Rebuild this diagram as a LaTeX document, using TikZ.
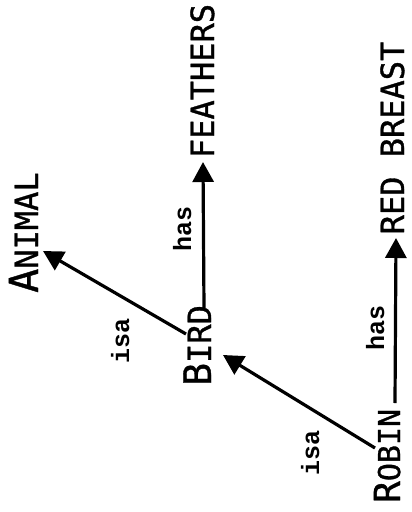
\documentclass[tikz,border=0pt]{standalone}
\usepackage{fontspec}
\usetikzlibrary{arrows.meta,calc}
\newfontfamily\capsfont[FakeBold=1]{DejaVu Sans Mono}
\newfontfamily\lblfont{Liberation Mono}
\newcommand{\myfs}[1]{\fontsize{#1}{#1}\selectfont}
\begin{document}
\begin{tikzpicture}[x=1pt,y=-1pt,
  conceptnode/.style={rotate=90,inner sep=0pt,text depth=0pt,anchor=base west,font=\capsfont},
  attrnode/.style={rotate=90,inner sep=0pt,text depth=0pt,anchor=base,font=\capsfont\myfs{32}},
  relnode/.style={rotate=90,inner sep=0pt,text depth=0pt,anchor=base,font=\lblfont\bfseries\myfs{25}},
  linkarrow/.style={line width=3.2pt,-{Triangle[length=20pt,width=21pt]}}]
\useasboundingbox (0,0) rectangle (412,512);
% concepts
\node[conceptnode] (animal) at (38,293) {{\myfs{40}A}{\myfs{32}NIMAL}};
\node[conceptnode] (bird) at (211,386) {{\myfs{38}B}{\myfs{32}IRD}};
\node[conceptnode] (robin) at (400,503) {{\myfs{36}R}{\myfs{30}OBIN}};
\node[attrnode] (feathers) at (214,81) {FEATHERS};
\node[attrnode] (redbreast) at (404,138) {RED BREAST};
% relation labels
\node[relnode] (isa1) at (129,341) {isa};
\node[relnode] (isa2) at (319,453) {isa};
\node[relnode] (has1) at (191,229) {has};
\node[relnode] (has2) at (384,328) {has};
% connectors
\draw[linkarrow] ($(bird.base west)+(-25,-52)$) -- ($(animal.base west)+(5,-42)$);
\draw[linkarrow] ($(robin.base west)+(-25,-55)$) -- ($(bird.base west)+(12,-31)$);
\draw[linkarrow] ($(bird.base west)+(-7,-78)$) -- ($(feathers.base)+(-11,81)$);
\draw[linkarrow] ($(robin.base west)+(-5,-100)$) -- ($(redbreast.base)+(-8,100)$);
\end{tikzpicture}
\end{document}
